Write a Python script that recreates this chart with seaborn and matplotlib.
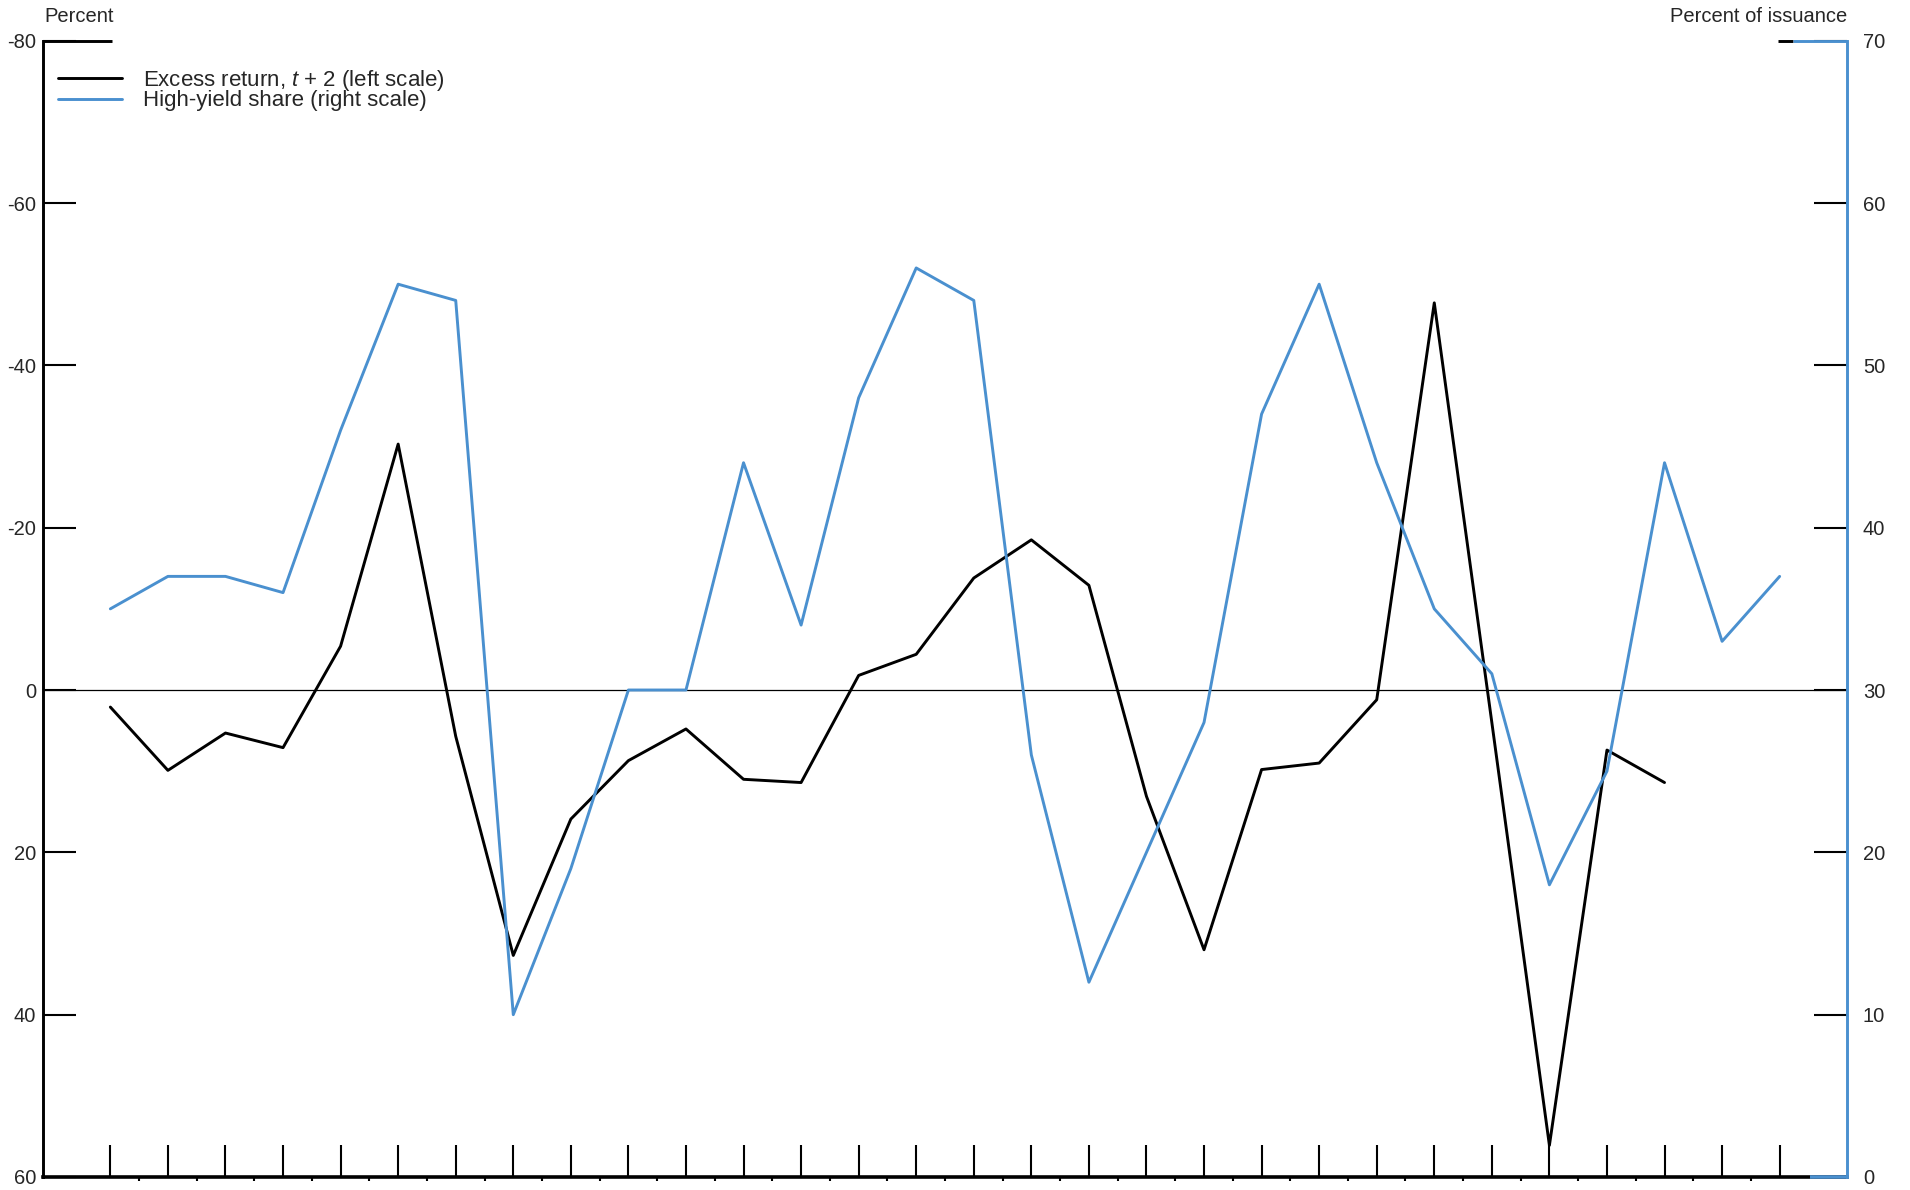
import numpy as np
import pandas as pd
import matplotlib
matplotlib.use("Agg")
import matplotlib.pyplot as plt
import seaborn as sns

# ---- data ----
periods = list(range(30))
excess_return = [2.1, 9.9, 5.3, 7.1, -5.4, -30.3, 5.7, 32.7, 15.9, 8.7,
                 4.8, 11.0, 11.4, -1.8, -4.4, -13.8, -18.5, -12.9, 13.1, 32.0,
                 9.8, 9.0, 1.2, -47.7, 4.0, 56.1, 7.4, 11.4]
high_yield_share = [35, 37, 37, 36, 46, 55, 54, 10, 19, 30,
                    30, 44, 34, 48, 56, 54, 26, 12, 20, 28,
                    47, 55, 44, 35, 31, 18, 25, 44, 33, 37]
left_ticks = [-80, -60, -40, -20, 0, 20, 40, 60]
right_ticks = [0, 10, 20, 30, 40, 50, 60, 70]
label_excess = "Excess return, $t$ + 2 (left scale)"
label_hy = "High-yield share (right scale)"

BLUE = "#4A90CF"

sns.set_theme(style="white")
plt.rcParams["font.family"] = ["Liberation Sans", "DejaVu Sans"]
plt.rcParams["mathtext.fontset"] = "custom"
plt.rcParams["mathtext.rm"] = "Liberation Sans"
plt.rcParams["mathtext.it"] = "Liberation Sans:italic"

df_ex = pd.DataFrame({"period": periods[:len(excess_return)], "value": excess_return})
df_hy = pd.DataFrame({"period": periods, "value": high_yield_share})

fig = plt.figure(figsize=(19.1, 11.9), dpi=100)
ax = fig.add_axes([43 / 1910, 13 / 1190, (1847 - 43) / 1910, (1177 - 40.7) / 1190])
ax2 = ax.twinx()

ax.axhline(0, color="black", lw=0.9, zorder=1)
sns.lineplot(data=df_ex, x="period", y="value", ax=ax, color="black", lw=2.1,
             label=label_excess, legend=False)
sns.lineplot(data=df_hy, x="period", y="value", ax=ax2, color=BLUE, lw=2.1,
             label=label_hy, legend=False)

ax.set_xlim(-1.17, 30.17)
ax.set_ylim(60, -80)
ax2.set_ylim(0, 70)
ax.set_xlabel("")
ax.set_ylabel("")
ax2.set_ylabel("")

ax.set_yticks(left_ticks)
ax.set_yticklabels([str(t) for t in left_ticks])
ax2.set_yticks(right_ticks)
ax2.set_yticklabels([str(t) for t in right_ticks])
ax.set_xticks(periods)
ax.set_xticks(np.arange(0.5, len(periods) - 1, 1.0), minor=True)

ax.tick_params(axis="y", which="major", direction="in", length=24, width=1.5,
               labelsize=14.5, pad=5, color="black", left=True)
ax.tick_params(axis="x", which="major", direction="in", length=23, width=1.5,
               labelbottom=False, bottom=True, color="black")
ax.tick_params(axis="x", which="minor", direction="out", length=3, width=1.5,
               bottom=True, color="black")
ax2.tick_params(axis="y", which="major", direction="in", length=24, width=1.5,
                labelsize=14.5, pad=11.5, color="black", right=True)

for s in ["top", "right"]:
    ax.spines[s].set_visible(False)
ax.spines["left"].set_color("black")
ax.spines["left"].set_linewidth(2.1)
ax.spines["bottom"].set_color("black")
ax.spines["bottom"].set_linewidth(2.6)
for s in ["top", "left", "bottom"]:
    ax2.spines[s].set_visible(False)
ax2.spines["right"].set_color(BLUE)
ax2.spines["right"].set_linewidth(2.1)
ax.grid(False)
ax2.grid(False)

# corner decorations
ax.plot([0, 0.038], [1, 1], transform=ax.transAxes, color="black", lw=2.1,
        clip_on=False, solid_capstyle="butt")
ax2.plot([0.9618, 0.9700], [1, 1], transform=ax2.transAxes, color="black", lw=2.1,
         clip_on=False, solid_capstyle="butt")
ax2.plot([0.9700, 1.0], [1, 1], transform=ax2.transAxes, color=BLUE, lw=2.1,
         clip_on=False, solid_capstyle="butt")
ax2.plot([0.9795, 1.0], [0, 0], transform=ax2.transAxes, color=BLUE, lw=2.6,
         clip_on=False, solid_capstyle="butt")

h1, l1 = ax.get_legend_handles_labels()
h2, l2 = ax2.get_legend_handles_labels()
leg = ax2.legend(h1 + h2, l1 + l2, loc="upper left",
                 bbox_to_anchor=(0.0083, 0.976), frameon=False, fontsize=16,
                 handlelength=2.9, handletextpad=0.93, labelspacing=-0.12,
                 borderpad=0.0, borderaxespad=0.0)

fig.text(44 / 1910, 1 - 17 / 1190, "Percent", ha="left", va="center", fontsize=14.5)
fig.text(1847 / 1910, 1 - 17 / 1190, "Percent of issuance", ha="right",
         va="center", fontsize=14.5)

fig.savefig("out.png", dpi=100)
